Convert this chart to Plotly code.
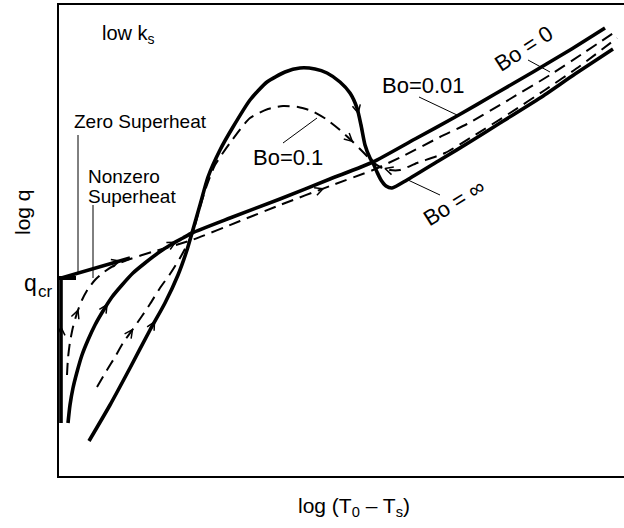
import plotly.graph_objects as go
import numpy as np

FONT = "Liberation Sans, Arial, Helvetica, sans-serif"

# ---- data (x: log(T0-Ts), y: log q, arbitrary units) ----
q_cr = 250

# zero superheat, Bo = 0 : jump at fixed wall temperature up to q_cr, then boiling line
x_s1 = [61, 61, 130]
y_s1 = [105, 250, 270]

# solid curve joining the boiling line (Bo = 0.01)
x_s2 = [68, 70, 73, 77, 82, 88, 95, 103, 112, 122, 133, 145, 158, 172, 183, 192,
        230, 280, 330, 373, 415, 457, 495, 533, 570, 605]
y_s2 = [105, 123, 140, 156, 173, 188, 203, 217, 231, 243, 255, 265, 275, 284, 290, 295,
        310, 329, 349, 366, 389, 412, 434, 456, 478, 500]

# solid curve with overshoot (Bo = infinity)
x_s3 = [89, 110, 130, 150, 165, 178, 187, 192, 200, 208, 220, 233, 250, 267, 285, 300,
        315, 327, 340, 350, 357, 361, 365, 370, 373, 377, 381, 386, 392, 407, 440, 473,
        500, 540, 575, 613]
y_s3 = [87, 123, 160, 198, 225, 253, 278, 295, 323, 351, 378, 401, 428, 446, 456, 460,
        459, 455, 446, 435, 420, 403, 383, 370, 365, 356, 348, 342, 340, 348, 368, 388,
        405, 430, 454, 479]

# dashed (nonzero superheat) curves
x_d1 = [67, 68, 70, 73, 77, 82, 88, 95, 104, 115, 130, 152, 192, 240, 280, 330, 373,
        403, 440, 467, 510, 550, 585, 618]
y_d1 = [153, 170, 186, 201, 215, 228, 239, 248, 256, 263, 269, 276, 288, 307, 323, 342,
        358, 372, 391, 404, 429, 453, 476, 498]

x_d2 = [97, 107, 115, 123, 133, 142, 150, 160, 170, 180, 188, 193, 200, 207, 215, 230,
        250, 268, 283, 298, 312, 326, 340, 353, 363, 373, 380, 390, 400, 417, 445, 475,
        510, 545, 580, 617]
y_d2 = [141, 158, 171, 185, 199, 212, 224, 240, 254, 270, 285, 296, 321, 343, 363, 385,
        410, 419, 422, 421, 417, 409, 398, 386, 376, 366, 361, 358, 358, 365, 375, 393,
        415, 438, 462, 490]

curves = {
    "s1": (x_s1, y_s1), "s2": (x_s2, y_s2), "s3": (x_s3, y_s3),
    "d1": (x_d1, y_d1), "d2": (x_d2, y_d2),
}

# direction arrows: (curve, segment index, fraction along segment, reversed)
arrow_specs = [("s1", 0, 0.66, False), ("s1", 1, 0.85, False), ("d1", 4, 0.2, False),
               ("s2", 7, 0.45, False), ("s2", 13, 0.3, False), ("d2", 3, 0.95, False),
               ("s3", 3, 0.3, False), ("d1", 14, 0.86, False), ("s3", 20, 0.3, False),
               ("d2", 22, 0.95, False), ("d2", 26, 0.5, True)]

X_RANGE = [59, 624]
Y_RANGE = [52, 523]

fig = go.Figure()

for key in ["s1", "s2", "s3"]:
    xs, ys = curves[key]
    shape = "linear" if key == "s1" else "spline"
    fig.add_trace(go.Scatter(x=xs, y=ys, mode="lines",
                             line=dict(color="black", width=3.6, shape=shape, smoothing=0.6),
                             hoverinfo="skip"))
for key in ["d1", "d2"]:
    xs, ys = curves[key]
    fig.add_trace(go.Scatter(x=xs, y=ys, mode="lines",
                             line=dict(color="black", width=2, dash="12px,7px",
                                       shape="spline", smoothing=0.6),
                             hoverinfo="skip"))

# chevron arrowheads computed from the curves
ax_, ay_ = [], []
L, W = 8.0, 4.0
for key, i, t, rev in arrow_specs:
    xs, ys = curves[key]
    p = np.array([xs[i], ys[i]], float)
    q = np.array([xs[i + 1], ys[i + 1]], float)
    tip = p + t * (q - p)
    d = (q - p) / np.linalg.norm(q - p)
    if rev:
        d = -d
    n = np.array([-d[1], d[0]])
    a1 = tip - L * d + W * n
    a2 = tip - L * d - W * n
    ax_ += [a1[0], tip[0], a2[0], None]
    ay_ += [a1[1], tip[1], a2[1], None]
fig.add_trace(go.Scatter(x=ax_, y=ay_, mode="lines", line=dict(color="black", width=1.5),
                         hoverinfo="skip"))

# leader lines for labels
leaders = [((78, 393), (78, 255)), ((93, 323), (93, 250)), ((283, 385), (317, 410)),
           ((419, 431), (457, 413)), ((528, 468), (550, 456)), ((440, 333), (408, 348))]
for (x0, y0), (x1, y1) in leaders:
    fig.add_shape(type="line", x0=x0, y0=y0, x1=x1, y1=y1, xref="x", yref="y",
                  line=dict(color="black", width=1))


def px(x):
    return (x - X_RANGE[0]) / (X_RANGE[1] - X_RANGE[0])


def py(y):
    return (y - Y_RANGE[0]) / (Y_RANGE[1] - Y_RANGE[0])


def label(text, x, y, size, angle=0, xanchor="center"):
    fig.add_annotation(text=text, x=px(x), y=py(y), xref="paper", yref="paper",
                       showarrow=False,
                       font=dict(family=FONT, size=size, color="black"),
                       textangle=angle, xanchor=xanchor, yanchor="middle")


label("low k<sub>s</sub>", 100, 493, 20, xanchor="left")
label("Zero Superheat", 72, 406, 19, xanchor="left")
label("Nonzero", 86, 352, 19, xanchor="left")
label("Superheat", 86, 332, 19, xanchor="left")
label("Bo=0.1", 288, 371, 22)
label("Bo=0.01", 423, 442, 22)
label("Bo = 0", 524, 479, 22, angle=-33)
label("Bo = ∞", 454, 326, 22, angle=-32)
label("log q", 22, 316, 21, angle=-90)
label("log (T<sub>0</sub> – T<sub>s</sub>)", 354, 21, 21)
# q_cr marker label
label("q", 30, 245, 23)
label("cr", 45, 237, 17)

fig.update_layout(
    width=624, height=528,
    margin=dict(l=59, r=0, t=5, b=52),
    plot_bgcolor="white", paper_bgcolor="white",
    showlegend=False,
    hovermode=False,
    font=dict(family=FONT, color="black"),
    xaxis=dict(range=X_RANGE, showline=True, linecolor="black", linewidth=2,
               mirror=True, showgrid=False, zeroline=False, showticklabels=False,
               ticks=""),
    yaxis=dict(range=Y_RANGE, showline=True, linecolor="black", linewidth=2,
               mirror=False, showgrid=False, zeroline=False,
               tickvals=[q_cr], ticktext=[""], ticks="inside",
               ticklen=17, tickwidth=3.5, tickcolor="black"),
)

fig.write_html("out.html", config={"displayModeBar": False},
               post_script="document.body.style.margin='0px';")
